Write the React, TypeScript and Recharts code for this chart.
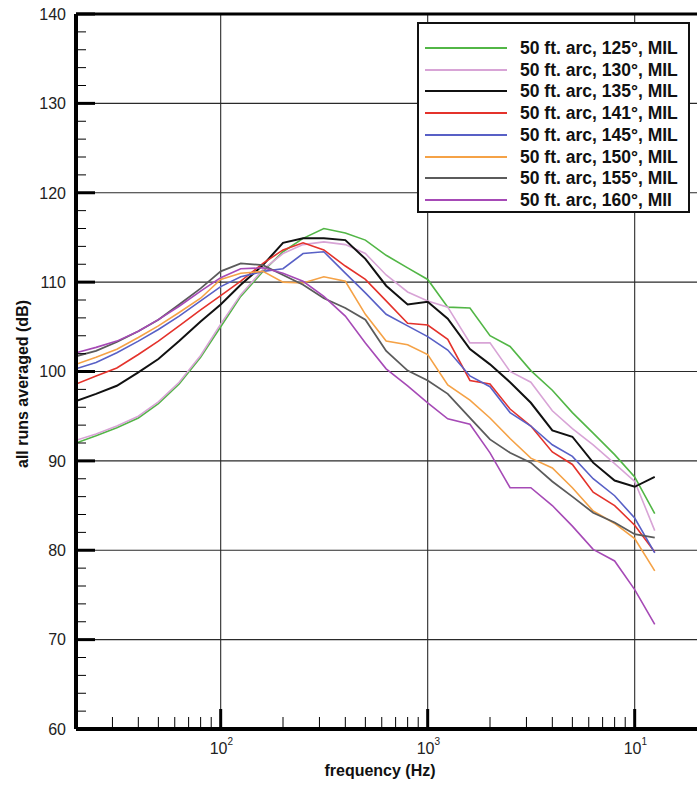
import React from "react";
import { LineChart, Line, XAxis, YAxis, ReferenceLine, Label } from "recharts";

const FREQ = [20, 25, 31.5, 40, 50, 63, 80, 100, 125, 160, 200, 250, 315, 400, 500, 630, 800, 1000, 1250, 1600, 2000, 2500, 3150, 4000, 5000, 6300, 8000, 10000, 12500];

const S125 = [92.0, 92.8, 93.7, 94.8, 96.4, 98.6, 101.6, 105.0, 108.4, 111.2, 113.4, 114.9, 116.0, 115.5, 114.7, 113.0, 111.6, 110.3, 107.2, 107.1, 104.0, 102.8, 100.1, 97.9, 95.4, 93.1, 90.7, 88.2, 84.1];
const S130 = [92.3, 93.0, 93.9, 95.0, 96.6, 98.8, 101.8, 105.3, 108.6, 111.4, 113.2, 114.2, 114.5, 114.2, 113.2, 110.8, 108.9, 107.9, 107.2, 103.2, 103.2, 100.0, 98.8, 95.6, 93.6, 91.8, 89.7, 87.7, 82.2];
const S135 = [96.7, 97.5, 98.4, 99.9, 101.4, 103.4, 105.6, 107.5, 109.7, 111.9, 114.4, 114.9, 114.9, 114.7, 112.6, 109.6, 107.5, 107.8, 105.9, 102.5, 100.8, 98.8, 96.5, 93.4, 92.7, 89.8, 87.8, 87.1, 88.2];
const S141 = [98.6, 99.5, 100.4, 101.9, 103.4, 105.1, 106.9, 108.5, 110.1, 112.1, 113.6, 114.4, 113.6, 111.8, 110.3, 107.9, 105.4, 105.2, 103.6, 99.0, 98.6, 95.8, 93.9, 91.0, 89.6, 86.5, 85.0, 82.8, 79.8];
const S145 = [100.3, 101.0, 102.1, 103.4, 104.7, 106.2, 107.9, 109.5, 110.6, 111.2, 111.5, 113.2, 113.4, 111.0, 108.8, 106.4, 105.1, 103.9, 102.4, 99.5, 98.3, 95.4, 93.9, 91.8, 90.5, 88.0, 86.1, 83.6, 79.7];
const S150 = [100.8, 101.6, 102.5, 103.8, 105.1, 106.6, 108.2, 110.3, 111.0, 111.2, 110.0, 109.9, 110.6, 110.1, 106.4, 103.4, 103.0, 101.9, 98.5, 96.8, 94.8, 92.5, 90.3, 89.2, 87.0, 84.4, 83.0, 81.3, 77.7];
const S155 = [101.7, 102.3, 103.3, 104.5, 105.8, 107.5, 109.3, 111.2, 112.1, 111.9, 110.8, 109.7, 108.2, 107.1, 105.8, 102.3, 100.1, 99.0, 97.5, 94.8, 92.4, 90.9, 89.8, 87.7, 86.0, 84.2, 83.1, 81.8, 81.4];
const S160 = [102.1, 102.7, 103.4, 104.5, 105.8, 107.3, 109.0, 110.5, 111.5, 111.6, 111.0, 110.1, 108.4, 106.2, 103.2, 100.3, 98.4, 96.5, 94.7, 94.1, 90.9, 87.0, 87.0, 85.0, 82.7, 80.1, 78.8, 75.6, 71.7];

const SERIES_KEYS = ["s125", "s130", "s135", "s141", "s145", "s150", "s155", "s160"];
const SERIES_VALUES = [S125, S130, S135, S141, S145, S150, S155, S160];
const SERIES_LABELS = [
  "50 ft. arc, 125°, MIL",
  "50 ft. arc, 130°, MIL",
  "50 ft. arc, 135°, MIL",
  "50 ft. arc, 141°, MIL",
  "50 ft. arc, 145°, MIL",
  "50 ft. arc, 150°, MIL",
  "50 ft. arc, 155°, MIL",
  "50 ft. arc, 160°, MII",
];
const SERIES_COLORS = ["#52b646", "#d8a4d6", "#111111", "#e4322b", "#5860c6", "#f5a246", "#5b5b5b", "#a64ab6"];
const SERIES_WIDTHS = [1.6, 1.6, 2, 1.6, 1.6, 1.6, 1.8, 1.6];

const Y_TICKS = [60, 70, 80, 90, 100, 110, 120, 130, 140];
const Y_MINOR = [62, 64, 66, 68, 72, 74, 76, 78, 82, 84, 86, 88, 92, 94, 96, 98, 102, 104, 106, 108, 112, 114, 116, 118, 122, 124, 126, 128, 132, 134, 136, 138];
const Y_GRID = [70, 80, 90, 100, 110, 120, 130];
const X_TICKS = [100, 1000, 10000];
const X_TICK_EXP = ["2", "3", "1"];
const X_MINOR = [30, 40, 50, 60, 70, 80, 90, 200, 300, 400, 500, 600, 700, 800, 900, 2000, 3000, 4000, 5000, 6000, 7000, 8000, 9000];

const X_MIN = 20;
const X_MAX = 20000;
const Y_MIN = 60;
const Y_MAX = 140;

const Y_ALL_TICKS = [...Y_TICKS, ...Y_MINOR].sort((a, b) => a - b);

const data = FREQ.map((f, i) => {
  const row: Record<string, number> = { f };
  SERIES_KEYS.forEach((k, j) => {
    row[k] = SERIES_VALUES[j][i];
  });
  return row;
});

const FONT = "'Liberation Sans', Arial, Helvetica, sans-serif";
const GRID = "#2a2a2a";

const XTick = (props: any) => {
  const { x, y, payload } = props;
  const idx = X_TICKS.indexOf(payload.value);
  return (
    <text x={x - 11} y={y + 25} fontSize={16} fill="#222" fontFamily={FONT} textAnchor="start">
      <tspan>10</tspan>
      <tspan dy={-9} fontSize={10}>{X_TICK_EXP[idx]}</tspan>
    </text>
  );
};

const YTick = (props: any) => {
  const { x, y, payload } = props;
  const major = Y_TICKS.indexOf(payload.value) >= 0;
  return (
    <g>
      <line x1={x} x2={x + (major ? 19 : 10)} y1={y} y2={y} stroke="#000" strokeWidth={major ? 3 : 1} />
      {major && (
        <text x={x - 10} y={y} dy="0.36em" textAnchor="end" fontSize={16} fill="#222" fontFamily={FONT}>
          {payload.value}
        </text>
      )}
    </g>
  );
};

// tick lengths in data units (dB) for the inward x ticks
const X_MAJOR_LEN = 20 / 8.94;
const X_MINOR_LEN = 12 / 8.94;

export default function App() {
  return (
    <div style={{ position: "absolute", left: 0, top: 0, width: 697, height: 785, background: "#fff", overflow: "hidden" }}>
      <LineChart width={697} height={785} data={data} margin={{ top: 14, right: 0, bottom: 26, left: 16 }}>
        {Y_GRID.map((v) => (
          <ReferenceLine key={"gy" + v} y={v} stroke={GRID} strokeWidth={1.1} ifOverflow="visible" />
        ))}
        {X_TICKS.map((v) => (
          <ReferenceLine key={"gx" + v} x={v} stroke={GRID} strokeWidth={1.1} ifOverflow="visible" />
        ))}
        <XAxis
          dataKey="f"
          type="number"
          scale="log"
          domain={[X_MIN, X_MAX]}
          allowDataOverflow
          ticks={X_TICKS}
          tick={<XTick />}
          tickLine={false}
          tickSize={0}
          tickMargin={0}
          height={30}
          axisLine={{ stroke: "#000", strokeWidth: 4 }}
        >
          <Label
            content={() => (
              <text x={380} y={776} textAnchor="middle" fontSize={16} fontWeight="bold" fill="#111" fontFamily={FONT}>
                frequency (Hz)
              </text>
            )}
          />
        </XAxis>
        <YAxis
          type="number"
          domain={[Y_MIN, Y_MAX]}
          ticks={Y_ALL_TICKS}
          interval={0}
          width={60}
          tickLine={false}
          tickSize={0}
          tickMargin={0}
          tick={<YTick />}
          axisLine={{ stroke: "#000", strokeWidth: 4 }}
        >
          <Label
            content={() => (
              <text
                x={22}
                y={384}
                transform="rotate(-90, 22, 384)"
                textAnchor="middle"
                dominantBaseline="central"
                fontSize={16}
                fontWeight="bold"
                fill="#111"
                fontFamily={FONT}
              >
                all runs averaged (dB)
              </text>
            )}
          />
        </YAxis>
        <ReferenceLine y={Y_MAX} stroke="#000" strokeWidth={3} ifOverflow="visible" />
        {X_TICKS.map((v) => (
          <ReferenceLine key={"xm" + v} ifOverflow="visible" segment={[{ x: v, y: Y_MIN }, { x: v, y: Y_MIN + X_MAJOR_LEN }]} stroke="#000" strokeWidth={3} />
        ))}
        {X_MINOR.map((v) => (
          <ReferenceLine key={"xn" + v} ifOverflow="visible" segment={[{ x: v, y: Y_MIN }, { x: v, y: Y_MIN + X_MINOR_LEN }]} stroke="#000" strokeWidth={1} />
        ))}
        {SERIES_KEYS.map((k, j) => (
          <Line
            key={k}
            dataKey={k}
            type="linear"
            stroke={SERIES_COLORS[j]}
            strokeWidth={SERIES_WIDTHS[j]}
            dot={false}
            isAnimationActive={false}
          />
        ))}
      </LineChart>
      <div
        style={{
          position: "absolute",
          left: 417,
          top: 22,
          width: 269,
          height: 187,
          border: "2px solid #111",
          background: "#fff",
          fontFamily: FONT,
        }}
      >
        {SERIES_LABELS.map((lab, j) => (
          <div key={lab} style={{ position: "absolute", left: 0, top: 13 + j * 21.7, height: 22, width: 269 }}>
            <div style={{ position: "absolute", left: 6, top: 10, width: 82, height: 2, background: SERIES_COLORS[j] }} />
            <div
              style={{
                position: "absolute",
                left: 101,
                top: 0,
                fontSize: 17.5,
                lineHeight: "22px",
                fontWeight: "bold",
                color: "#111",
                whiteSpace: "nowrap",
              }}
            >
              {lab}
            </div>
          </div>
        ))}
      </div>
    </div>
  );
}
